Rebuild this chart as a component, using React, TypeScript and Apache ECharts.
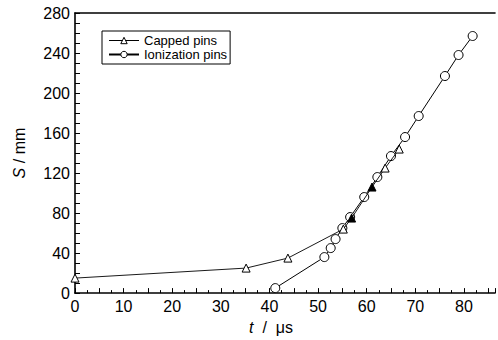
import React, { useEffect, useRef } from 'react';
import * as echarts from 'echarts';

const FONT = '"Liberation Sans", Arial, sans-serif';

// Capped pins (triangles)
const tCapped = [0, 35.2, 43.8, 55.2, 56.9, 61.1, 63.8, 66.7];
const sCapped = [15, 25, 35, 64, 75, 106, 125, 144];
const filledCapped = [false, false, false, false, true, true, false, false];

// Ionization pins (circles)
const tIon = [41.2, 51.3, 52.6, 53.6, 55.0, 56.6, 59.5, 62.2, 65.0, 67.9, 70.7, 76.1, 78.9, 81.8];
const sIon = [5, 36, 45, 54, 65, 76, 96, 116, 137, 156, 177, 217, 238, 257];

const xLabelStep = 10;

export default function App() {
  const ref = useRef<HTMLDivElement>(null);
  useEffect(() => {
    const chart = echarts.init(ref.current!, null, { renderer: 'svg' });
    const axisLineStyle = { color: '#000', width: 1.6 };
    const openItem = { color: '#fff', borderColor: '#000', borderWidth: 1 };
    chart.setOption({
      animation: false,
      backgroundColor: '#fff',
      grid: { left: 75, right: 0, top: 13, bottom: 44 },
      legend: {
        left: 102,
        top: 31,
        orient: 'vertical',
        itemWidth: 30,
        itemHeight: 8,
        itemGap: 1,
        padding: [3, 3, 3, 6],
        borderColor: '#000',
        borderWidth: 1,
        textStyle: { fontSize: 13, fontFamily: FONT, color: '#000' },
        itemStyle: openItem,
        data: [
          { name: 'Capped pins', lineStyle: { color: '#000', width: 1 }, itemStyle: openItem },
          { name: 'Ionization pins', lineStyle: { color: '#000', width: 2 }, itemStyle: openItem },
        ],
      },
      xAxis: [
        {
          type: 'value',
          min: 0,
          max: 86.4,
          interval: 5,
          position: 'bottom',
          axisLine: { show: true, onZero: false, lineStyle: axisLineStyle },
          axisTick: { show: true, inside: true, length: 5, lineStyle: { color: '#000', width: 1 } },
          minorTick: { show: true, splitNumber: 2, length: 3, lineStyle: { color: '#000', width: 1 } },
          splitLine: { show: false },
          axisLabel: {
            fontSize: 16,
            fontFamily: FONT,
            color: '#000',
            margin: 5,
            formatter: (v: number) => (Math.abs(v % xLabelStep) < 1e-9 ? String(v) : ''),
          },
          name: '{i|t}  /  μs',
          nameLocation: 'middle',
          nameGap: 20,
          nameTextStyle: {
            fontSize: 16,
            fontFamily: FONT,
            color: '#000',
            padding: [0, 28, 0, 0],
            rich: { i: { fontStyle: 'italic', fontSize: 16, fontFamily: FONT, color: '#000' } },
          },
        },
        {
          type: 'value',
          min: 0,
          max: 86.4,
          position: 'top',
          axisLine: { show: true, onZero: false, lineStyle: axisLineStyle },
          axisTick: { show: false },
          axisLabel: { show: false },
          splitLine: { show: false },
        },
      ],
      yAxis: {
        type: 'value',
        min: 0,
        max: 280,
        interval: 40,
        axisLine: { show: true, onZero: false, lineStyle: axisLineStyle },
        axisTick: { show: true, inside: true, length: 5, lineStyle: { color: '#000', width: 1 } },
        minorTick: { show: true, splitNumber: 4, length: 5, lineStyle: { color: '#000', width: 1 } },
        splitLine: { show: false },
        axisLabel: { fontSize: 16, fontFamily: FONT, color: '#000', margin: 5 },
        name: '{i|S} / mm',
        nameLocation: 'middle',
        nameGap: 48,
        nameTextStyle: {
          fontSize: 16,
          fontFamily: FONT,
          color: '#000',
          rich: { i: { fontStyle: 'italic', fontSize: 16, fontFamily: FONT, color: '#000' } },
        },
      },
      series: [
        {
          type: 'line',
          name: 'Ionization pins',
          xAxisIndex: 0,
          z: 2,
          symbol: 'circle',
          symbolSize: 9,
          data: tIon.map((t, i) => [t, sIon[i]]),
          lineStyle: { color: '#000', width: 1 },
          itemStyle: openItem,
        },
        {
          type: 'line',
          name: 'Capped pins',
          xAxisIndex: 0,
          z: 3,
          symbol: 'triangle',
          symbolSize: 8,
          data: tCapped.map((t, i) => ({
            value: [t, sCapped[i]],
            itemStyle: filledCapped[i] ? { color: '#000' } : undefined,
          })),
          lineStyle: { color: '#000', width: 0.9 },
          itemStyle: openItem,
        },
      ],
    });
    return () => chart.dispose();
  }, []);
  return (
    <div
      ref={ref}
      style={{ position: 'absolute', left: 0, top: 0, width: 498, height: 340, background: '#fff' }}
    />
  );
}
